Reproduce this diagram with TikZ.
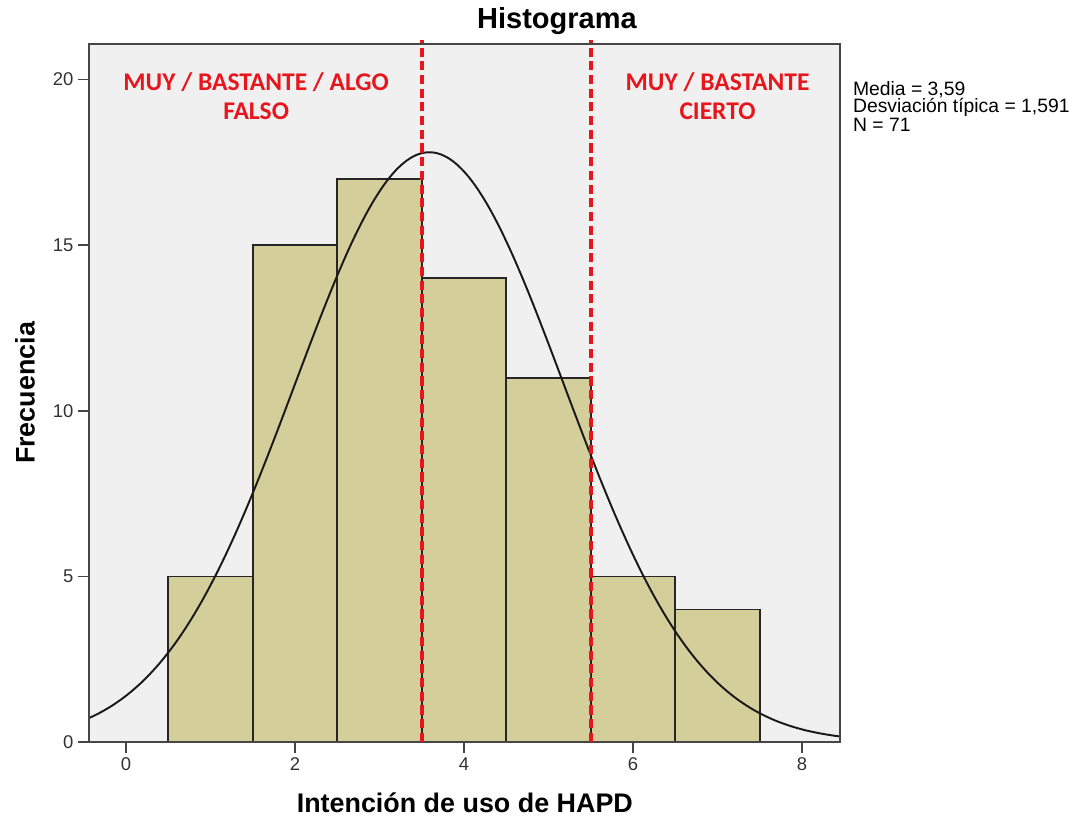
\documentclass[tikz,border=0pt]{standalone}
\usepackage{fontspec}
\setmainfont{Liberation Sans}
\newfontfamily\calfont{Carlito}
\usetikzlibrary{positioning}
\definecolor{mred}{RGB}{232, 22, 28}
\definecolor{bartan}{RGB}{211, 206, 154}
\definecolor{plotbg}{RGB}{240, 240, 240}
\definecolor{framegray}{RGB}{70, 70, 70}
\definecolor{labgray}{RGB}{50, 50, 50}
\tikzset{bar/.style = {fill = bartan, draw = black!85, line width = 1pt}}
\tikzset{curve/.style = {black!90, line width = 1.1pt}}
\tikzset{splitline/.style = {mred, line width = 2.3pt, dash pattern = on 5.2pt off 2.6pt}}
\tikzset{ticklab/.style = {labgray, font = \fontsize{10.5}{12}\selectfont, inner sep = 2pt}}
\tikzset{zonelab/.style = {mred, align = center, font = \calfont\bfseries\fontsize{14.5}{17}\selectfont}}

\begin{document}
\begin{tikzpicture}[x=1.69cm, y=0.6624cm]
  \useasboundingbox (-2.52cm, -1.52cm) rectangle (19.0cm, 14.84cm);
  \fill [plotbg] (-0.44, 0) rectangle (8.45, 21.07);

  % bars
  \draw [bar] (0.5, 0) rectangle (1.5, 5);
  \draw [bar] (1.5, 0) rectangle (2.5, 15);
  \draw [bar] (2.5, 0) rectangle (3.5, 17);
  \draw [bar] (3.5, 0) rectangle (4.5, 14);
  \draw [bar] (4.5, 0) rectangle (5.5, 11);
  \draw [bar] (5.5, 0) rectangle (6.5, 5);
  \draw [bar] (6.5, 0) rectangle (7.5, 4);

  \draw [curve] plot [domain = -0.44:8.45, samples = 150, smooth]
    (\x, {17.8032*exp(-(\x - 3.59)^2/5.062562)});

  \draw [framegray, line width = 1.1pt] (-0.44, 0) rectangle (8.45, 21.07);

  \foreach \v in {0, 5, 10, 15, 20} {
    \draw [framegray, line width = 1pt] (-0.44, \v) -- (-0.57, \v)
      node [ticklab, left] (y\v) {\v};
  }
  \foreach \v in {0, 2, 4, 6, 8} {
    \draw [framegray, line width = 1pt] (\v, 0) -- (\v, -0.33)
      node [ticklab, below] (x\v) {\v};
  }

  \draw [splitline] (3.5, 0) -- (3.5, 21.2);
  \draw [splitline] (5.5, 0) -- (5.5, 21.2);

  \node [zonelab] (falso) at (1.54, 19.5) {MUY / BASTANTE / ALGO\\FALSO};
  \node [zonelab] (cierto) at (7.0, 19.5) {MUY / BASTANTE\\CIERTO};

  \node [font = \bfseries\fontsize{16.5}{19}\selectfont] (title) at (5.1, 21.77) {Histograma};
  \node [font = \bfseries\fontsize{15.3}{18}\selectfont] (xlab) at (4.01, -1.84) {Intención de uso de HAPD};
  \node [font = \bfseries\fontsize{15.3}{18}\selectfont, rotate = 90] (ylab) at (-1.195, 10.54) {Frecuencia};

  \node [anchor = north west, align = left, inner sep = 0,
         font = \fontsize{11}{9.8}\selectfont] (stats) at (8.6, 19.96)
    {Media = 3,59\\Desviación típica = 1,591\\N = 71};
\end{tikzpicture}
\end{document}
